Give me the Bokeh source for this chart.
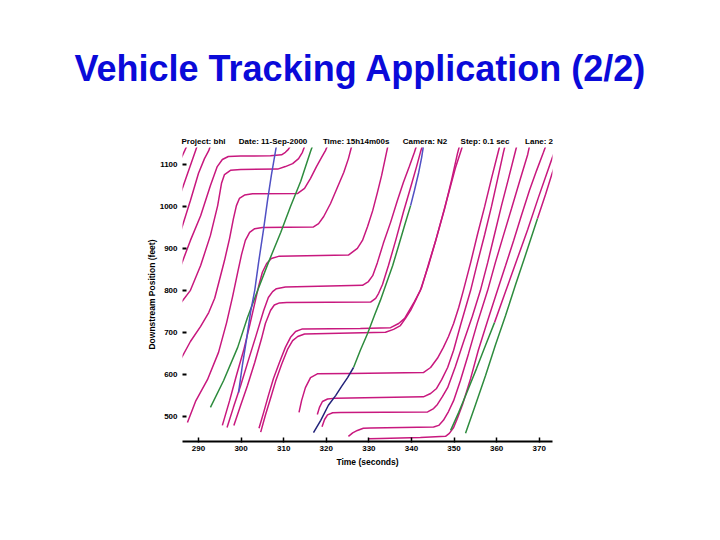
from bokeh.plotting import figure
from bokeh.models import Range1d, FixedTicker, ColumnDataSource, Title
from bokeh.embed import file_html
from bokeh.resources import INLINE

# ---------------- texts and ticks ----------------
title_text = "Vehicle Tracking Application (2/2)"
header_items = ["Project: bhl", "Date: 11-Sep-2000", "Time: 15h14m00s",
                "Camera: N2", "Step: 0.1 sec", "Lane: 2"]
x_label = "Time (seconds)"
y_label = "Downstream Position (feet)"
time_ticks = [290, 300, 310, 320, 330, 340, 350, 360, 370]
position_ticks = [500, 600, 700, 800, 900, 1000, 1100]

# ---------------- vehicle trajectories (time s, downstream position ft) ----------------
veh00_time = [285.8, 287.3]
veh00_pos = [1112, 1145]

veh01_time = [285.8, 287.7, 289.3, 289.7]
veh01_pos = [1031, 1086, 1133, 1145]

veh02_time = [285.8, 288.1, 290.0, 291.4, 292.4, 292.8]
veh02_pos = [940, 1014, 1079, 1114, 1133, 1145]

veh03_time = [285.8, 288.1, 290.5, 292.8, 294.4, 295.6, 297.0, 299.9, 306.9, 309.5, 310.4, 311.1, 311.5]
veh03_pos = [857, 919, 978, 1050, 1095, 1112, 1119, 1120, 1121, 1123, 1129, 1136, 1143]

veh04_time = [285.8, 288.1, 290.5, 292.8, 294.5, 295.4, 296.1, 297.5, 299.9, 308.6, 310.4, 312.1, 313.5, 314.4, 314.9]
veh04_pos = [769, 800, 859, 931, 1002, 1055, 1076, 1086, 1088, 1089, 1095, 1102, 1114, 1129, 1143]

veh05_time = [285.8, 288.1, 290.5, 292.4, 293.8, 294.9, 296.1, 297.3, 298.2, 298.9, 299.6, 300.8, 302.7,
              313.3, 314.9, 316.3, 317.7, 318.9, 319.8, 320.3]
veh05_pos = [635, 678, 714, 747, 781, 824, 871, 924, 971, 1002, 1019, 1027, 1030,
             1031, 1043, 1067, 1095, 1117, 1133, 1145]

veh06_time = [287.4, 289.3, 292.1, 294.7, 296.6, 298.0, 299.2, 300.1, 301.0, 302.0, 303.2, 305.0,
              317.0, 318.2, 319.4, 321.0, 322.6, 324.1, 325.2, 325.9, 326.2]
veh06_pos = [485, 535, 587, 652, 723, 785, 843, 885, 919, 938, 947, 950,
             951, 959, 976, 1007, 1045, 1081, 1114, 1141, 1148]

veh07_time = [295.6, 297.3, 298.9, 300.6, 302.0, 303.2, 304.1, 305.0, 306.0, 307.1, 308.8,
              325.2, 327.3, 328.5, 329.7, 330.9, 332.0, 333.0, 333.9, 334.4, 334.6]
veh07_pos = [478, 537, 597, 657, 716, 769, 809, 843, 864, 876, 881,
             884, 900, 919, 952, 990, 1033, 1074, 1117, 1141, 1150]

veh08_time = [296.7, 298.2, 299.9, 301.7, 303.6, 305.3, 306.4, 307.4, 308.3, 310.4,
              328.5, 329.9, 330.9, 332.0, 333.4, 335.1, 336.7, 338.1, 339.5, 340.7, 341.2]
veh08_pos = [473, 521, 573, 633, 695, 752, 783, 797, 804, 808,
             812, 821, 835, 866, 912, 962, 1014, 1057, 1095, 1129, 1145]

veh09_time = [298.3, 299.9, 301.5, 303.2, 304.8, 305.7, 306.9, 307.8, 309.0, 310.7,
              330.4, 331.6, 332.3, 333.2, 334.6, 336.3, 338.1, 339.8, 341.2, 342.1, 342.6]
veh09_pos = [478, 526, 573, 628, 685, 721, 752, 765, 770, 771,
             772, 781, 793, 814, 859, 919, 986, 1045, 1095, 1129, 1145]

veh10_time = [304.2, 305.3, 306.4, 307.6, 309.0, 310.4, 311.6, 312.8, 314.4, 328.0, 335.1,
              337.0, 338.4, 339.5, 340.7, 342.1, 344.0, 345.9, 347.8, 349.4, 350.8, 351.3]
veh10_pos = [471, 509, 549, 590, 628, 664, 688, 702, 708, 709, 711,
             721, 733, 752, 773, 800, 859, 926, 995, 1062, 1126, 1145]

veh11_time = [304.6, 305.7, 306.9, 308.1, 309.5, 310.9, 312.1, 313.3, 314.9, 333.9, 335.8, 337.4,
              338.6, 339.8, 341.2, 342.4, 344.0, 345.7, 347.3, 348.9, 350.3, 351.8, 352.0]
veh11_pos = [462, 502, 542, 583, 623, 659, 680, 690, 696, 700, 707, 716,
             733, 752, 781, 807, 862, 919, 978, 1038, 1091, 1138, 1148]

veh12_time = [313.6, 314.2, 315.1, 316.3, 317.9, 325.7, 342.8, 344.5, 346.1, 347.5, 348.7, 349.9,
              351.1, 352.2, 353.9, 355.5, 357.2, 358.8, 360.4, 360.7]
veh12_pos = [509, 537, 568, 592, 601, 602, 604, 616, 638, 664, 690, 721,
             759, 800, 866, 933, 1000, 1067, 1131, 1143]

veh13_time = [317.9, 318.4, 319.1, 320.3, 322.2, 342.8, 344.5, 345.9, 347.1, 348.5, 349.9, 351.5,
              353.9, 355.5, 357.2, 358.8, 360.2, 361.6, 361.9]
veh13_pos = [504, 521, 535, 541, 543, 546, 554, 566, 587, 616, 657, 716,
             800, 866, 933, 1000, 1064, 1129, 1141]

veh14_time = [319.0, 319.6, 320.3, 321.5, 323.3, 343.8, 345.2, 346.1, 347.3, 348.5, 350.3, 352.2,
              354.3, 356.2, 357.9, 359.5, 361.1, 362.8, 364.4, 364.7]
veh14_pos = [475, 492, 503, 508, 509, 510, 518, 528, 547, 568, 618, 676,
             738, 800, 866, 933, 1000, 1067, 1131, 1143]

veh15_time = [325.2, 326.2, 327.3, 328.7, 330.4, 345.2, 346.4, 347.5, 348.7, 349.9, 351.5, 353.4,
              355.5, 357.9, 359.7, 361.6, 363.5, 365.4, 367.3, 367.7]
veh15_pos = [452, 460, 466, 471, 472, 474, 478, 490, 511, 537, 585, 649,
             723, 800, 866, 931, 995, 1060, 1124, 1143]

veh16_time = [329.9, 332.7, 342.1, 348.0, 348.9, 349.9, 350.8, 352.0, 353.9, 355.7, 357.9, 360.2,
              362.1, 364.0, 365.8, 367.7, 369.4, 371.0, 371.5]
veh16_pos = [446, 447, 449, 452, 459, 473, 495, 528, 590, 657, 728, 800,
             859, 919, 978, 1038, 1086, 1129, 1143]

# vehicles whose tracked segments are drawn in other colours
veh17_green_time = [349.2, 351.1, 353.2, 355.3, 357.4, 359.5]
veh17_green_pos = [466, 509, 561, 614, 669, 723]
veh17_time = [359.5, 362.1, 364.7, 367.3, 369.8, 373.1, 374.1]
veh17_pos = [723, 797, 871, 945, 1021, 1117, 1143]

veh18_green_time = [352.7, 355.0, 357.4, 359.7, 362.1, 364.4, 366.8, 369.6]
veh18_green_pos = [459, 526, 597, 669, 740, 812, 885, 971]
veh18_time = [369.6, 371.5, 373.1, 374.1]
veh18_pos = [971, 1029, 1081, 1110]

green_a_time = [292.8, 295.9, 299.2, 301.5, 303.9, 306.4, 309.3, 311.6, 314.0, 316.3, 316.8]
green_a_pos = [521, 585, 664, 735, 800, 866, 938, 1000, 1060, 1131, 1145]

blue_a_time = [299.4, 300.3, 301.3, 302.2, 303.2, 304.1, 305.3, 306.2, 307.1, 308.1, 308.3]
blue_a_pos = [556, 621, 685, 747, 800, 866, 947, 1014, 1074, 1133, 1145]

mixed_navy_time = [317.0, 318.7, 320.5, 322.2, 323.6, 325.0, 326.4]
mixed_navy_pos = [461, 490, 526, 549, 571, 592, 616]
mixed_green_time = [326.4, 328.0, 329.7, 331.3, 332.7, 334.1, 335.6, 337.0, 338.4, 339.8]
mixed_green_pos = [616, 657, 697, 740, 776, 816, 859, 907, 955, 1002]
mixed_blue_time = [339.8, 340.7, 341.7, 342.4, 342.8]
mixed_blue_pos = [1002, 1038, 1081, 1117, 1143]

# ---------------- drawing ----------------
MAGENTA = "#C8187E"
GREEN = "#2E8C3E"
BLUE = "#5050C4"
NAVY = "#23237A"

segments = [
    (veh00_time, veh00_pos, MAGENTA), (veh01_time, veh01_pos, MAGENTA),
    (veh02_time, veh02_pos, MAGENTA), (veh03_time, veh03_pos, MAGENTA),
    (veh04_time, veh04_pos, MAGENTA), (veh05_time, veh05_pos, MAGENTA),
    (veh06_time, veh06_pos, MAGENTA), (veh07_time, veh07_pos, MAGENTA),
    (veh08_time, veh08_pos, MAGENTA), (veh09_time, veh09_pos, MAGENTA),
    (veh10_time, veh10_pos, MAGENTA), (veh11_time, veh11_pos, MAGENTA),
    (veh12_time, veh12_pos, MAGENTA), (veh13_time, veh13_pos, MAGENTA),
    (veh14_time, veh14_pos, MAGENTA), (veh15_time, veh15_pos, MAGENTA),
    (veh16_time, veh16_pos, MAGENTA), (veh17_time, veh17_pos, MAGENTA),
    (veh18_time, veh18_pos, MAGENTA),
    (veh17_green_time, veh17_green_pos, GREEN), (veh18_green_time, veh18_green_pos, GREEN),
    (green_a_time, green_a_pos, GREEN), (mixed_green_time, mixed_green_pos, GREEN),
    (blue_a_time, blue_a_pos, BLUE), (mixed_blue_time, mixed_blue_pos, BLUE),
    (mixed_navy_time, mixed_navy_pos, NAVY),
]

FONT = "Liberation Sans"

p = figure(width=704, height=520, output_backend="svg", toolbar_location=None,
           x_range=Range1d(286.24, 373.12), y_range=Range1d(439.6, 1140.5),
           min_border_left=182, min_border_right=152, min_border_top=147,
           min_border_bottom=79, title=None)
p.outline_line_color = None
p.grid.visible = False
p.background_fill_color = "white"
p.border_fill_color = "white"

src = ColumnDataSource(dict(xs=[s[0] for s in segments], ys=[s[1] for s in segments],
                            color=[s[2] for s in segments]))
p.multi_line("xs", "ys", source=src, line_color="color", line_width=1.5)

# axes
p.xaxis.ticker = FixedTicker(ticks=time_ticks)
p.yaxis.ticker = FixedTicker(ticks=position_ticks)
p.axis.minor_tick_line_color = None
p.yaxis.axis_line_color = None
p.yaxis.major_tick_in = 4
p.yaxis.major_tick_out = 0
p.yaxis.major_tick_line_width = 2
p.yaxis.major_label_standoff = 5
p.xaxis.axis_line_width = 2
p.xaxis.major_tick_in = 4
p.xaxis.major_tick_out = 1
p.xaxis.major_tick_line_width = 1.5
p.xaxis.major_label_standoff = 3
p.axis.major_label_text_font = FONT
p.axis.major_label_text_font_size = "8px"
p.axis.major_label_text_font_style = "bold"
p.axis.major_label_text_color = "black"
p.xaxis.axis_label = x_label
p.yaxis.axis_label = y_label
p.axis.axis_label_text_font = FONT
p.axis.axis_label_text_font_size = "8.5px"
p.axis.axis_label_text_font_style = "bold"
p.axis.axis_label_text_color = "black"
p.xaxis.axis_label_standoff = 3
p.yaxis.axis_label_standoff = 0

# header line just above the plot (gaps made with non-breaking spaces)
gaps = [6, 7, 6, 6, 7]
header_text = header_items[0]
for n, item in zip(gaps, header_items[1:]):
    header_text += "\u00a0" * n + item
p.add_layout(Title(text=header_text, align="left", offset=-1, standoff=4,
                   text_font=FONT, text_font_size="8px", text_font_style="bold",
                   text_color="black"), "above")

# slide title
p.add_layout(Title(text=title_text, align="left", offset=-108, standoff=87,
                   text_font=FONT, text_font_size="36px", text_font_style="bold",
                   text_color="#0A0AD9"), "above")

open("out.html", "w").write(file_html(p, INLINE))
